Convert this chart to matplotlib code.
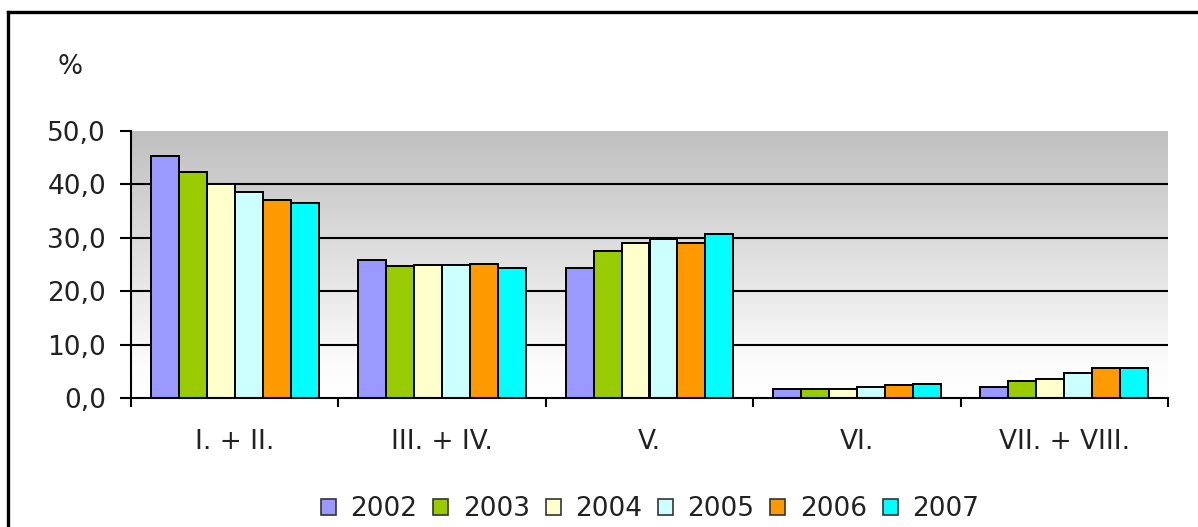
import numpy as np
import matplotlib
matplotlib.use("Agg")
import matplotlib.pyplot as plt
from matplotlib.patches import Patch
from matplotlib.lines import Line2D

# Data
categories = ["I. + II.", "III. + IV.", "V.", "VI.", "VII. + VIII."]
years = ["2002", "2003", "2004", "2005", "2006", "2007"]
v2002 = [45.4, 25.8, 24.4, 1.6, 2.1]
v2003 = [42.4, 24.7, 27.6, 1.6, 3.1]
v2004 = [40.0, 25.0, 29.0, 1.6, 3.5]
v2005 = [38.6, 25.0, 29.8, 2.1, 4.6]
v2006 = [37.1, 25.1, 29.1, 2.4, 5.6]
v2007 = [36.5, 24.4, 30.7, 2.7, 5.6]
series = [v2002, v2003, v2004, v2005, v2006, v2007]
y_ticks = [0, 10, 20, 30, 40, 50]
y_labels = [f"{t:.1f}".replace(".", ",") for t in y_ticks]

colors = ["#9999FF", "#99CC00", "#FFFFCC", "#CCFFFF", "#FF9900", "#00FFFF"]
text_color = "#222222"
font = "DejaVu Sans"

W, H = 1198, 527
fig = plt.figure(figsize=(W / 100, H / 100), dpi=100)
fig.patch.set_facecolor("white")

left, right, top, bottom = 131, 1168, 131, 398
ax = fig.add_axes([left / W, 1 - bottom / H, (right - left) / W, (bottom - top) / H])

n_cat = len(categories)
ax.set_xlim(0, n_cat)
ax.set_ylim(0, 50)

# vertical grey gradient behind the bars
grad = np.linspace(0, 1, 256).reshape(-1, 1)
ax.imshow(grad, extent=[0, n_cat, 0, 50], origin="lower", aspect="auto",
          cmap=matplotlib.colors.LinearSegmentedColormap.from_list(
              "bg", [(0.0, "#ffffff"), (0.12, "#fcfcfc"), (0.8, "#cdcdcd"), (1.0, "#c0c0c0")]),
          zorder=0, interpolation="bilinear")

for t in y_ticks[1:-1]:
    ax.axhline(t, color="black", lw=1.5, zorder=1)

bar_w = 0.135
centers = np.arange(n_cat) + 0.5
for i, (vals, col) in enumerate(zip(series, colors)):
    ax.bar(centers + (i - 2.5) * bar_w, vals, width=bar_w, color=col,
           edgecolor="black", linewidth=1.4, zorder=2)

for s in ["top", "right"]:
    ax.spines[s].set_visible(False)
for s in ["left", "bottom"]:
    ax.spines[s].set_linewidth(1.5)
    ax.spines[s].set_color("black")

ax.set_yticks(y_ticks)
ax.set_yticklabels(y_labels, fontsize=19, color=text_color, family=font)
ax.tick_params(axis="y", direction="out", length=8, width=1.5, pad=10)

ax.set_xticks(centers)
ax.set_xticklabels(categories, fontsize=19, color=text_color, family=font)
ax.set_xticks(np.arange(n_cat + 1), minor=True)
ax.tick_params(axis="x", which="major", length=0, pad=22)
ax.tick_params(axis="x", which="minor", direction="out", length=6.5, width=1.5)

fig.text(70 / W, 1 - 67 / H, "%", fontsize=19, color=text_color, family=font,
         ha="center", va="center")

handles = [Patch(facecolor=c, edgecolor="#333333", linewidth=1.2) for c in colors]
fig.legend(handles, years, loc="center", bbox_to_anchor=(650 / W, 1 - 509 / H),
           ncol=6, frameon=False, prop={"family": font, "size": 19},
           handlelength=0.57, handleheight=0.57, handletextpad=0.55,
           columnspacing=0.6, labelcolor=text_color)

# outer frame (top and left edges visible)
fig.add_artist(Line2D([8 / W, 1.0], [1 - 12 / H, 1 - 12 / H], color="black", lw=2.4,
                      transform=fig.transFigure))
fig.add_artist(Line2D([8 / W, 8 / W], [1 - 12 / H, 0.0], color="black", lw=2.4,
                      transform=fig.transFigure))

fig.savefig("out.png", dpi=100, facecolor="white")
